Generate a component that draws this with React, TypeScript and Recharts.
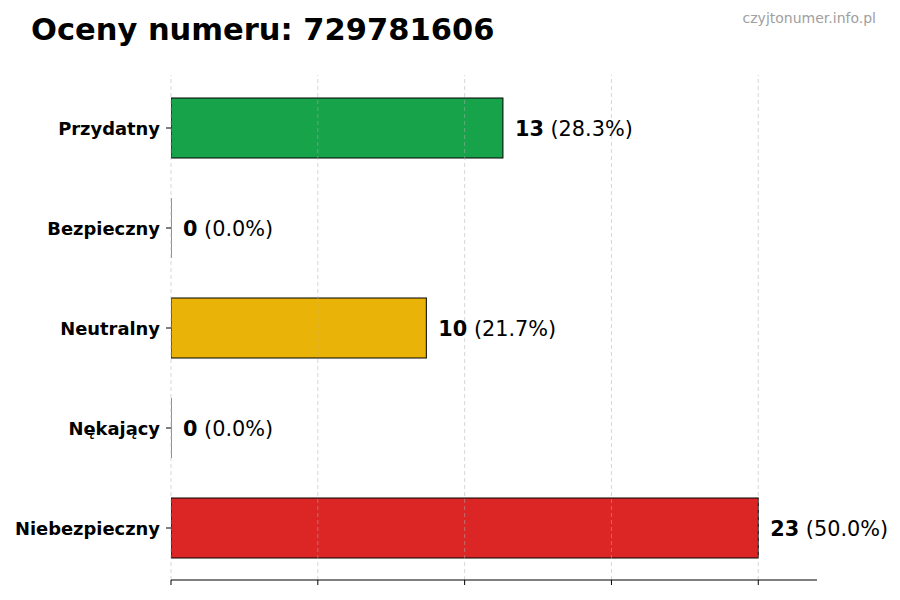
import React from "react";
import { Bar, BarChart, Cell, LabelList, ReferenceLine, XAxis, YAxis } from "recharts";

const categories = ["Przydatny", "Bezpieczny", "Neutralny", "Nękający", "Niebezpieczny"];
const counts = [13, 0, 10, 0, 23];
const colors = ["#16a34a", "#eab308", "#eab308", "#eab308", "#dc2626"];
const xTicks = [0, 5.75, 11.5, 17.25, 23];

const total = counts.reduce((a, b) => a + b, 0);
const data = categories.map((name, i) => ({ name, value: counts[i] }));

if (typeof document !== "undefined") document.body.style.margin = "0";

const FONT = "DejaVu Sans, sans-serif";

function BarShape(props: any) {
  const { x, y, width, height, fill } = props;
  if (!width) {
    return <line x1={x} x2={x} y1={y} y2={y + height} stroke="#222" strokeWidth={1} />;
  }
  return <rect x={x} y={y} width={width} height={height} fill={fill} stroke="#000" strokeWidth={1} />;
}

function ValueLabel(props: any) {
  const { x, y, width, height, value } = props;
  const pct = ((value / total) * 100).toFixed(1);
  return (
    <text x={x + width + 12} y={y + height / 2} dy={8} fontFamily={FONT} fontSize={20.8} fill="#000">
      <tspan fontWeight="bold">{value}</tspan>
      <tspan> ({pct}%)</tspan>
    </text>
  );
}

function CategoryTick(props: any) {
  const { x, y, payload } = props;
  return (
    <text x={x} y={y} dy={7} textAnchor="end" fontFamily={FONT} fontSize={17.9} fontWeight="bold" fill="#000">
      {payload.value}
    </text>
  );
}

export default function App() {
  return (
    <div style={{ position: "relative", width: 900, height: 600, background: "#fff" }}>
      <div
        style={{
          position: "absolute",
          left: 31,
          top: 12,
          fontFamily: FONT,
          fontWeight: "bold",
          fontSize: 30.5,
          color: "#000",
          whiteSpace: "nowrap",
        }}
      >
        Oceny numeru: 729781606
      </div>
      <div
        style={{
          position: "absolute",
          right: 24,
          top: 10,
          fontFamily: FONT,
          fontSize: 14,
          color: "#a0a0a0",
          whiteSpace: "nowrap",
        }}
      >
        czyjtonumer.info.pl
      </div>
      <BarChart
        width={900}
        height={600}
        data={data}
        layout="vertical"
        margin={{ top: 75, right: 83, bottom: 0, left: 0 }}
      >
        <XAxis
          type="number"
          domain={[0, 25.3]}
          ticks={xTicks}
          tickFormatter={() => ""}
          height={20}
          stroke="#000"
          tickSize={5}
          allowDataOverflow
        />
        <YAxis
          type="category"
          dataKey="name"
          width={171}
          axisLine={false}
          tickLine={{ stroke: "#000" }}
          tickSize={5}
          tickMargin={6}
          tick={<CategoryTick />}
          padding={{ top: 3, bottom: 2 }}
        />
        <Bar dataKey="value" barSize={60} isAnimationActive={false} shape={<BarShape />}>
          {data.map((d, i) => (
            <Cell key={d.name} fill={colors[i]} />
          ))}
          <LabelList dataKey="value" content={<ValueLabel />} />
        </Bar>
        {xTicks.map((t) => (
          <ReferenceLine
            key={t}
            x={t}
            stroke="#b0b0b0"
            strokeOpacity={0.5}
            strokeDasharray="4 3"
            strokeWidth={1}
          />
        ))}
      </BarChart>
    </div>
  );
}
